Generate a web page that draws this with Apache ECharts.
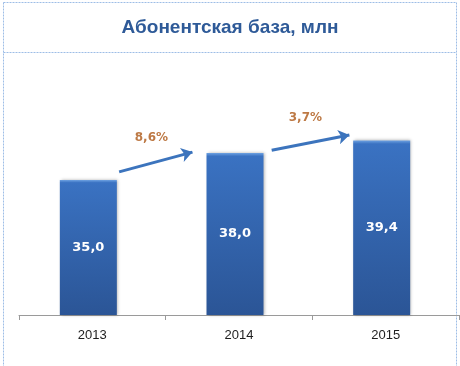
<!DOCTYPE html>
<html><head><meta charset="utf-8">
<script src="https://cdn.jsdelivr.net/npm/echarts@6/dist/echarts.min.js"></script>
<style>html,body{margin:0;padding:0;background:#fff}#c{width:460px;height:366px}</style>
</head><body><div id="c"></div>
<script>
const titleText = 'Абонентская база, млн';
const categories = ['2013', '2014', '2015'];
const values = [35.0, 38.0, 39.4];
const valueLabels = ['35,0', '38,0', '39,4'];
const growthLabels = ['8,6%', '3,7%'];
// arrows: [fromIndex, fromValue] -> [toIndex, toValue]
const arrowStarts = [[0.21, 35.9], [1.25, 38.3]];
const arrowEnds = [[0.71, 38.1], [1.78, 40.0]];
const growthLabelPos = [[0.43, 39.7], [1.48, 41.9]];

const chart = echarts.init(document.getElementById('c'), null, {renderer: 'canvas'});
const barColor = new echarts.graphic.LinearGradient(0, 0, 0, 1, [
  {offset: 0, color: '#6ea2e2'},
  {offset: 0.02, color: '#3a72c2'},
  {offset: 1, color: '#2b5596'}
]);
chart.setOption({
  animation: false,
  title: {
    text: titleText, left: 'center', top: 13,
    textStyle: {fontFamily: 'Liberation Sans, Arial', fontWeight: 'bold', fontSize: 19, color: '#2e5a98'}
  },
  graphic: [
    {type: 'rect', shape: {x: 3.5, y: 2.5, width: 453, height: 370}, style: {fill: 'none', stroke: '#9dbde6', lineWidth: 1, lineDash: [2, 1]}},
    {type: 'line', shape: {x1: 3.5, y1: 52.5, x2: 456.5, y2: 52.5}, style: {stroke: '#9dbde6', lineWidth: 1, lineDash: [2, 1]}}
  ],
  grid: [
    {left: 15, right: 5, top: 90, bottom: 51},
    {left: 19, right: 1, top: 90, bottom: 51}
  ],
  xAxis: [
    {type: 'category', gridIndex: 0, data: categories, show: false},
    {type: 'category', gridIndex: 1, data: categories,
     axisLine: {lineStyle: {color: '#9a9a9a'}},
     axisTick: {show: true, inside: false, length: 5, lineStyle: {color: '#9a9a9a'}},
     axisLabel: {color: '#1e1e1e', fontSize: 13, fontFamily: 'Liberation Sans, Arial', margin: 14}},
    {type: 'value', gridIndex: 0, min: -0.5, max: 2.5, show: false}
  ],
  yAxis: [
    {type: 'value', gridIndex: 0, min: 20, max: 45, show: false},
    {type: 'value', gridIndex: 1, min: 20, max: 45, show: false}
  ],
  series: [
    {
      type: 'bar', xAxisIndex: 0, yAxisIndex: 0, data: values, barWidth: 57,
      itemStyle: {color: barColor,
        shadowColor: 'rgba(0,0,0,0.3)', shadowBlur: 3, shadowOffsetX: 1, shadowOffsetY: 0},
      label: {show: true, position: 'inside', formatter: p => valueLabels[p.dataIndex],
        color: '#fff', fontWeight: 'bold', fontSize: 13, fontFamily: 'DejaVu Sans, Verdana'}
    },
    {
      type: 'bar', xAxisIndex: 1, yAxisIndex: 1, data: [], silent: true
    },
    {
      type: 'lines', coordinateSystem: 'cartesian2d', xAxisIndex: 2, yAxisIndex: 0,
      symbol: ['none', 'arrow'], symbolSize: 11,
      lineStyle: {color: '#3c74bd', width: 3, opacity: 1, curveness: 0},
      data: arrowStarts.map((s, i) => ({coords: [s, arrowEnds[i]]})), z: 5
    },
    {
      type: 'scatter', xAxisIndex: 2, yAxisIndex: 0, symbolSize: 0,
      data: growthLabelPos.map((p, i) => ({value: p, name: growthLabels[i]})),
      label: {show: true, position: 'inside', formatter: p => p.name,
        color: '#ad5816', fontWeight: 'bold', fontSize: 12, fontFamily: 'DejaVu Sans, Verdana'}
    }
  ]
});
</script></body></html>
